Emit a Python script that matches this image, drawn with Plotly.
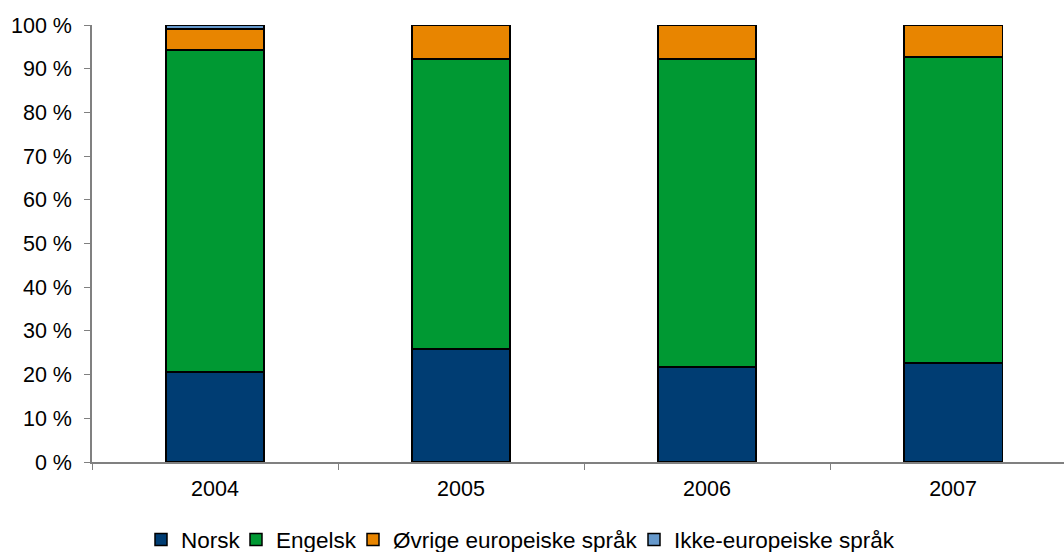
import plotly.graph_objects as go

years = ["2004", "2005", "2006", "2007"]
norsk = [20.6, 25.9, 21.7, 22.7]
engelsk = [73.7, 66.3, 70.5, 70.0]
ovrige = [4.8, 7.8, 7.8, 7.3]
ikke = [0.9, 0.0, 0.0, 0.0]

series = [
    ("Norsk", norsk, "#003D73"),
    ("Engelsk", engelsk, "#009933"),
    ("Øvrige europeiske språk", ovrige, "#E88500"),
    ("Ikke-europeiske språk", ikke, "#6699CC"),
]
# left edge of each legend swatch (px)
legend_symbol_x = [154, 249, 366, 647]
legend_ids = ["legend", "legend2", "legend3", "legend4"]

fig = go.Figure()
for (name, vals, color), lid in zip(series, legend_ids):
    fig.add_trace(go.Bar(
        x=years, y=vals, name=name, width=0.4, legend=lid,
        marker=dict(color=color, line=dict(color="black", width=1.5)),
    ))

FS = 21.5
LFS = 22.5
W, H = 1064, 552
legend_layout = {}
for lid, sx in zip(legend_ids, legend_symbol_x):
    legend_layout[lid] = dict(
        orientation="h", xref="container", yref="container",
        x=(sx - 13) / W, xanchor="left", y=0.022, yanchor="middle",
        font=dict(size=LFS), itemwidth=30, bgcolor="rgba(0,0,0,0)",
    )

fig.update_layout(
    barmode="stack",
    width=W, height=H,
    margin=dict(l=92, r=0, t=25, b=90),
    plot_bgcolor="white", paper_bgcolor="white",
    font=dict(family="Liberation Sans, Arial, sans-serif", size=FS, color="black"),
    showlegend=True,
    xaxis=dict(type="category", range=[-0.5, 3.451], tickson="boundaries",
               ticks="outside", ticklen=6, tickcolor="#808080",
               ticklabelstandoff=6,
               showline=True, linecolor="#808080", linewidth=1.5,
               showgrid=False, tickfont=dict(size=FS)),
    yaxis=dict(range=[0, 100], dtick=10, ticksuffix=" %",
               ticks="outside", ticklen=6, tickcolor="#808080",
               ticklabelstandoff=8,
               showline=True, linecolor="#808080", linewidth=1.5,
               showgrid=False, zeroline=False, tickfont=dict(size=FS)),
    **legend_layout,
)

fig.write_html("out.html", config={"displayModeBar": False},
               post_script="document.body.style.margin='0';document.body.style.overflow='hidden';")
